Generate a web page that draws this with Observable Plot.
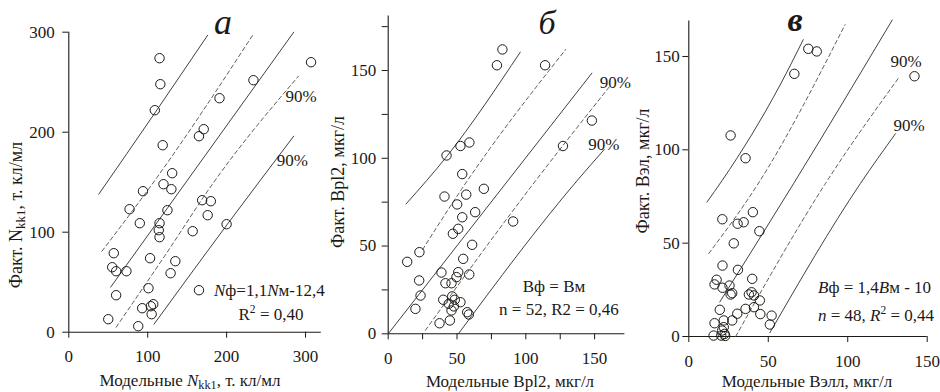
<!DOCTYPE html>
<html><head><meta charset="utf-8">
<script src="https://cdn.jsdelivr.net/npm/d3@7"></script>
<script src="https://cdn.jsdelivr.net/npm/@observablehq/plot@0.6"></script>
<style>
html,body{margin:0;padding:0;background:#fff;}
#wrap{position:relative;width:940px;height:392px;overflow:hidden;background:#fff;}
#wrap svg{position:absolute;left:0;top:0;overflow:visible;}
#wrap svg text{font-family:"Liberation Serif","Times New Roman",serif;}
</style></head><body><div id="wrap"></div>
<script>
// ---------- Panel а: N kk1 ----------
const aModel = [115,116,109,119,131,120,130,94,77,125,90,115,114,115,57,55,60,73,103,135,129,60,101,93,104,107,105,50,88,165,157,169,180,176,200,165,171,191,234,307];
const aFact  = [274,248,222,187,159,148,143,141,123,122,109,109,102,95,79,65,61,61,74,71,59,37,44,24,26,28,18,13,6,42,101,132,131,117,108,196,203,234,252,270];
const aCenter    = [[53,45],[285,300]];
const aUpper90   = [[38,138],[108,218],[176,297]];
const aUpperDash = [[42,81],[112,155],[233,297]];
const aLowerDash = [[60,5],[123,78],[182,148],[291,256]];
const aLower90   = [[108,8],[201,108],[285,196]];
const aXTicks = [0,100,200,300];
const aYTicks = [0,100,200,300];

// ---------- Panel б: Bpl2 ----------
const bModel = [83,79,114,148,127,59,52.5,42.4,53.8,69.5,40.9,56.7,50.1,63.2,53.8,90.8,50.9,47,61,22.7,13.8,54.5,38.7,50.9,58.9,49.6,22.5,41.6,46,23.5,46.5,40,48.4,52.5,44,47.7,19.8,46,57.4,58.6,37.3,44.8];
const bFact  = [162,153,153,121.5,107,109,107,101.6,91,82.6,78.2,79.3,73.7,69.3,66.4,64,59.8,57,50.7,46.5,41,42.7,34.9,35.1,33.8,32.3,30.4,28.8,28.8,21.8,21.3,19.4,19.4,18,17.1,15.6,14.2,13.3,12.3,11,6,7.6];
const bCenter    = [[0,0],[148,148.5]];
const bUpper90   = [[13,74],[43,101.5],[96,160.5]];
const bUpperDash = [[25,48],[53,82],[129,162]];
const bLowerDash = [[27,2],[104,84],[161,141]];
const bLower90   = [[51,0],[137,87],[157,105]];
const bXTicks = [0,25,50,75,100,125,150];
const bYTicks = [0,25,50,75,100,125,150,175];

// ---------- Panel в: Вэл ----------
const cModel = [75.2,80.5,66.4,142,26.3,35.7,40.3,34.5,30.7,21.1,44.4,28.3,21.2,30.9,39.9,17.5,16.2,21.2,25.6,27.3,26.3,37.8,39.5,41,44.7,35.7,41,30.5,45,19.5,27.3,22,16.2,52.1,51,15.6,21,22.5,20.4,22.9,22];
const cFact  = [154.1,152.7,140.7,139.4,107.7,95.5,66.6,61.2,60.4,62.8,56.4,49.9,38,35.7,30.9,30.4,27.9,26.1,27.3,23.2,22.5,22.5,23.7,22,19.3,14.8,15.7,12.2,12,14.3,8.6,8.6,7.1,11.2,6.4,0.5,3.2,1.4,0.5,0.3,5];
const cCenter    = [[19.5,18.5],[66,82],[128,169.5]];
const cUpper90   = [[11.4,72],[21,83.6],[57.8,135.3],[72,159]];
const cUpperDash = [[12.6,44.5],[43,81],[98.3,167]];
const cLowerDash = [[29.5,0],[86,82],[132,138.5]];
const cLower90   = [[51,2],[108,82],[130,108.6]];
const cXTicks = [0,50,100,150];
const cYTicks = [0,50,100,150];

const FONT = '"Liberation Serif","Times New Roman",serif';
const INK = "#1d1915";

function panel(cfg) {
  const pts = cfg.model.map((m, i) => ({x: m, y: cfg.fact[i]}));
  const solid = {stroke: "#2b2b2b", strokeWidth: 0.9, curve: "monotone-x"};
  const dashed = {stroke: "#4d4d4d", strokeWidth: 0.9, strokeDasharray: "4,3", curve: "monotone-x"};
  const lab = (pt, dx, dy) => Plot.text([pt], {text: () => "90%", dx, dy, fontSize: 17, fontFamily: FONT, textAnchor: "start", fill: INK});
  return Plot.plot({
    width: 940, height: 392,
    marginLeft: cfg.ml, marginRight: cfg.mr, marginTop: cfg.mt, marginBottom: cfg.mb,
    style: {background: "none", fontFamily: FONT, overflow: "visible", color: INK},
    x: {domain: cfg.xDomain},
    y: {domain: cfg.yDomain},
    marks: [
      Plot.axisX({ticks: cfg.xTicks, tickFormat: cfg.fmt, tickSize: 6, tickPadding: 12, fontSize: 17, fontFamily: FONT, label: null}),
      Plot.axisY({ticks: cfg.yTicks, tickFormat: cfg.fmt, tickSize: 6, tickPadding: cfg.yPad, fontSize: 17, fontFamily: FONT, label: null}),
      Plot.ruleY([0], {stroke: INK, strokeWidth: 1.1}),
      Plot.ruleX([0], {stroke: INK, strokeWidth: 1.1}),
      Plot.line(cfg.upper90, solid),
      Plot.line(cfg.center, solid),
      Plot.line(cfg.lower90, solid),
      Plot.line(cfg.upperDash, dashed),
      Plot.line(cfg.lowerDash, dashed),
      lab(cfg.lowerDash[cfg.lowerDash.length - 1], cfg.l1[0], cfg.l1[1]),
      lab(cfg.lower90[cfg.lower90.length - 1], cfg.l2[0], cfg.l2[1]),
      Plot.dot(pts, {x: "x", y: "y", r: 4.7, stroke: INK, fill: "none", strokeWidth: 1})
    ]
  });
}

const fmt50 = d => (d % 50 === 0 ? String(d) : "");
const wrap = document.getElementById("wrap");

const pa = panel({model: aModel, fact: aFact, center: aCenter, upper90: aUpper90, upperDash: aUpperDash, lowerDash: aLowerDash, lower90: aLower90,
  xDomain: [0, 320], yDomain: [0, 300], xTicks: aXTicks, yTicks: aYTicks, fmt: d => String(d), yPad: 8,
  ml: 68.3, mr: 619.2, mt: 31.7, mb: 60.3, l1: [-13, 20], l2: [-17, 24]});
const pb = panel({model: bModel, fact: bFact, center: bCenter, upper90: bUpper90, upperDash: bUpperDash, lowerDash: bLowerDash, lower90: bLower90,
  xDomain: [0, 172], yDomain: [0, 181], xTicks: bXTicks, yTicks: bYTicks, fmt: fmt50, yPad: 6,
  ml: 387.7, mr: 315.6, mt: 15.6, mb: 58.7, l1: [-10, -4], l2: [-16, -5]});
const pc = panel({model: cModel, fact: cFact, center: cCenter, upper90: cUpper90, upperDash: cUpperDash, lowerDash: cLowerDash, lower90: cLower90,
  xDomain: [0, 150], yDomain: [0, 169], xTicks: cXTicks, yTicks: cYTicks, fmt: d => String(d), yPad: 3,
  ml: 688.3, mr: 13.3, mt: 20.5, mb: 56, l1: [-8, -16], l2: [-2, -8]});
wrap.append(pa, pb, pc);

// rich text helper
function rich(svgNode, x, y, parts, o = {}) {
  const size = o.size || 17;
  const t = d3.select(svgNode).append("text")
    .attr("font-family", FONT).attr("font-size", size).attr("fill", INK)
    .attr("text-anchor", o.anchor || "start");
  if (o.weight) t.attr("font-weight", o.weight);
  if (o.italic) t.attr("font-style", "italic");
  if (o.rotate) t.attr("transform", `translate(${x},${y}) rotate(-90)`);
  else t.attr("x", x).attr("y", y);
  let cur = 0;
  for (const p of parts) {
    const [s, st = {}] = Array.isArray(p) ? p : [p];
    const ts = t.append("tspan").text(s);
    let shift = 0;
    if (st.i) ts.attr("font-style", "italic");
    if (st.sub) { ts.attr("font-size", size * 0.72); shift = size * 0.18; }
    if (st.sup) { ts.attr("font-size", size * 0.68); shift = -size * 0.42; }
    if (shift !== cur) { ts.attr("dy", shift - cur); cur = shift; }
  }
  return t;
}

// Panel а texts
rich(pa, 223, 34, ["а"], {anchor: "middle", size: 36, italic: true});
rich(pa, 190, 386, ["Модельные ", ["N", {i: true}], ["kk1", {sub: true}], ", т. кл/мл"], {anchor: "middle", size: 17});
rich(pa, 22, 215, ["Факт. N", ["kk1", {sub: true}], ", т. кл/мл"], {anchor: "middle", size: 18, rotate: true});
rich(pa, 214, 296, [["N", {i: true}], "ф=1,1", ["N", {i: true}], "м-12,4"], {size: 17});
rich(pa, 271, 320, ["R", ["2", {sup: true}], " = 0,40"], {anchor: "middle", size: 17});

// Panel б texts
rich(pb, 547, 34, ["б"], {anchor: "middle", size: 34, italic: true});
rich(pb, 510, 387, ["Модельные Bpl2, мкг/л"], {anchor: "middle", size: 17});
rich(pb, 344, 182, ["Факт. Bpl2, мкг/л"], {anchor: "middle", size: 18, rotate: true});
rich(pb, 554, 292, ["Bф = Bм"], {anchor: "middle", size: 17});
rich(pb, 559, 315, ["n = 52, R2 = 0,46"], {anchor: "middle", size: 17});

// Panel в texts
rich(pc, 795, 31, ["в"], {anchor: "middle", size: 34, italic: true, weight: "bold"});
rich(pc, 807, 387, ["Модельные Вэлл, мкг/л"], {anchor: "middle", size: 17});
rich(pc, 649, 171, ["Факт. Вэл, мкг/л"], {anchor: "middle", size: 18, rotate: true});
rich(pc, 818, 293, [["В", {i: true}], "ф = 1,4", ["В", {i: true}], "м - 10"], {size: 17});
rich(pc, 818, 321, [["n", {i: true}], " = 48, ", ["R", {i: true}], ["2", {sup: true}], " = 0,44"], {size: 17});
</script>
</body></html>
